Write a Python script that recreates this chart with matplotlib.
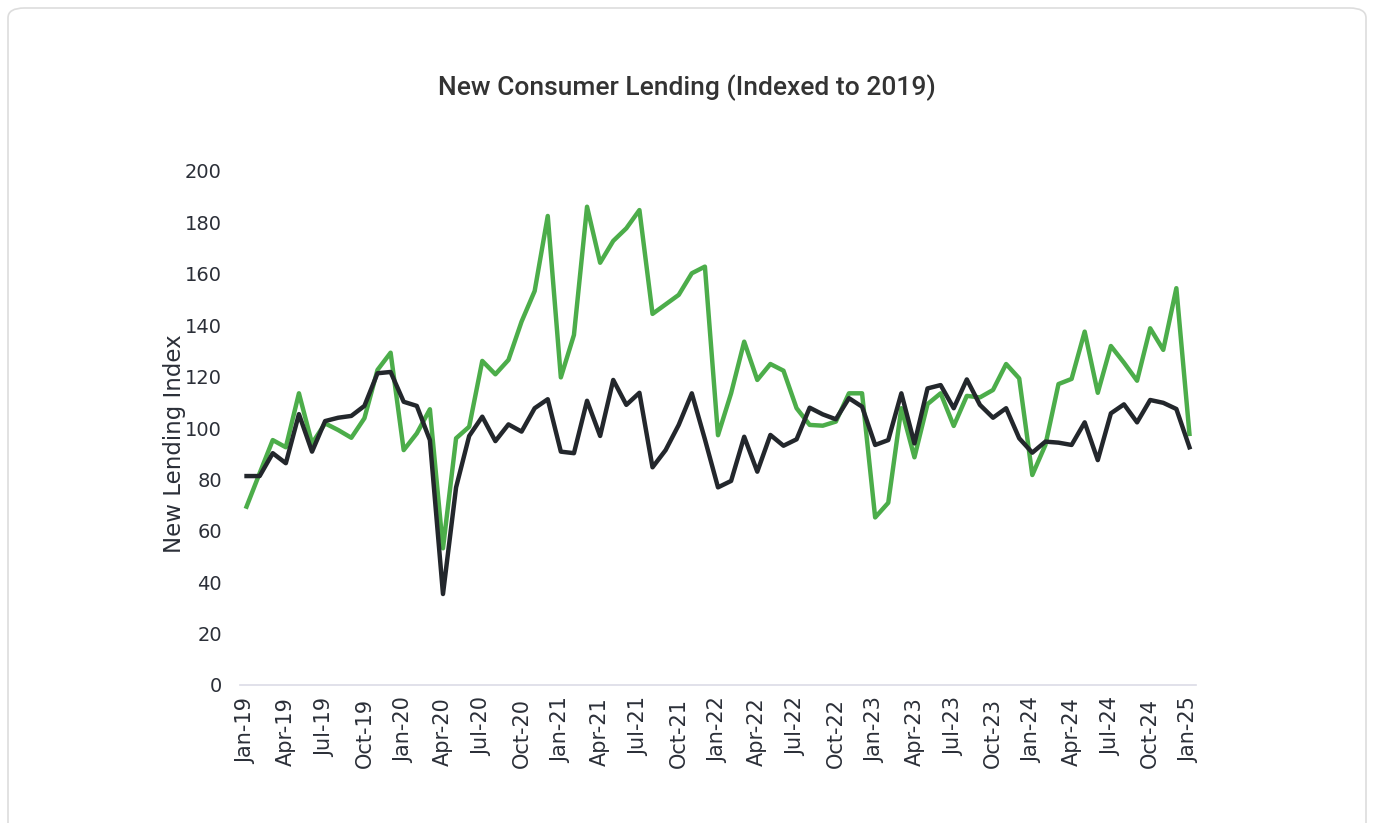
import matplotlib
matplotlib.use("Agg")
import matplotlib.pyplot as plt
from matplotlib.patches import FancyBboxPatch
import numpy as np
import pandas as pd

# monthly index values, Jan-19 .. Jan-25
months = pd.date_range("2019-01-01", "2025-01-01", freq="MS")

green_series = [
    69.4, 82.4, 95.3, 92.5, 113.5, 94.0, 101.8, 99.2, 96.2, 103.8, 122.6, 129.3,
    91.4, 97.9, 107.3, 53.2, 96.0, 100.5, 126.1, 120.9, 126.5, 141.4, 153.3, 182.5,
    119.7, 136.2, 186.1, 164.3, 172.8, 177.7, 184.8, 144.4, 148.1, 151.8, 160.2, 162.8,
    97.2, 113.5, 133.6, 118.7, 124.9, 122.3, 107.7, 101.2, 100.9, 102.5, 113.5, 113.5,
    65.2, 70.9, 107.7, 88.6, 109.3, 113.5, 100.8, 112.5, 111.9, 114.8, 124.9, 119.3,
    81.7, 93.4, 117.1, 119.1, 137.5, 113.7, 131.9, 125.4, 118.4, 138.8, 130.4, 154.4,
    97.7,
]

black_series = [
    81.3, 81.3, 90.2, 86.3, 105.4, 90.8, 102.7, 104.0, 104.7, 108.6, 121.3, 121.8,
    110.2, 108.6, 95.3, 35.4, 76.9, 96.9, 104.4, 94.9, 101.4, 98.6, 107.7, 111.2,
    90.8, 90.2, 110.6, 96.9, 118.7, 109.0, 113.7, 84.7, 91.4, 101.2, 113.5, 95.6,
    76.9, 79.4, 96.6, 83.0, 97.3, 93.1, 95.6, 107.9, 105.3, 103.4, 111.6, 108.3,
    93.4, 95.3, 113.5, 94.0, 115.4, 116.7, 107.7, 118.9, 109.0, 104.0, 107.7, 96.0,
    90.4, 94.7, 94.3, 93.4, 102.2, 87.5, 105.7, 109.2, 102.2, 110.9, 109.8, 107.4,
    92.5,
]

y_ticks = [0, 20, 40, 60, 80, 100, 120, 140, 160, 180, 200]

x = np.arange(len(months))
tick_pos = x[::3]
tick_labels = [d.strftime("%b-%y") for d in months[::3]]

fig = plt.figure(figsize=(13.73, 8.23), dpi=100)

# card outline
card = FancyBboxPatch((8 / 1373, -0.02), 1358 / 1373, 1.0 - 8 / 823 + 0.02,
                      boxstyle="round,pad=0,rounding_size=0.012",
                      transform=fig.transFigure, facecolor="none",
                      edgecolor="#dddddd", linewidth=1.2, zorder=-1)
fig.patches.append(card)

ax = fig.add_axes([240 / 1373, 1 - 685 / 823, 956 / 1373, 514 / 823])
ax.patch.set_alpha(0)

ax.plot(x, green_series, color="#4cad4a", linewidth=3.2, solid_joinstyle="round", zorder=2)
ax.plot(x, black_series, color="#23272c", linewidth=3.2, solid_joinstyle="round", zorder=3)

tick_color = "#2b2f38"
ax.set_xlim(-0.5, len(months) - 0.5)
ax.set_ylim(0, 200)
ax.set_yticks(y_ticks)
ax.set_xticks(tick_pos)
ax.set_xticklabels(tick_labels, rotation=90, fontsize=15, color=tick_color, family="DejaVu Sans")
ax.set_yticklabels([str(v) for v in y_ticks], fontsize=14, color=tick_color, family="DejaVu Sans")
ax.tick_params(axis="both", length=0)
ax.tick_params(axis="y", pad=13)
ax.tick_params(axis="x", pad=9)

for side in ["top", "right", "left"]:
    ax.spines[side].set_visible(False)
ax.spines["bottom"].set_color("#dcdce6")
ax.spines["bottom"].set_linewidth(1.2)

ax.set_ylabel("New Lending Index", fontsize=16.5, color=tick_color, family="DejaVu Sans")
ax.yaxis.set_label_coords(-0.056, 0.47)

fig.text(687 / 1373, 1 - 88 / 823, "New Consumer Lending (Indexed to 2019)",
         ha="center", va="center", fontsize=19, color="#333333", family="Roboto",
         fontweight="medium")

fig.savefig("out.png", dpi=100)
